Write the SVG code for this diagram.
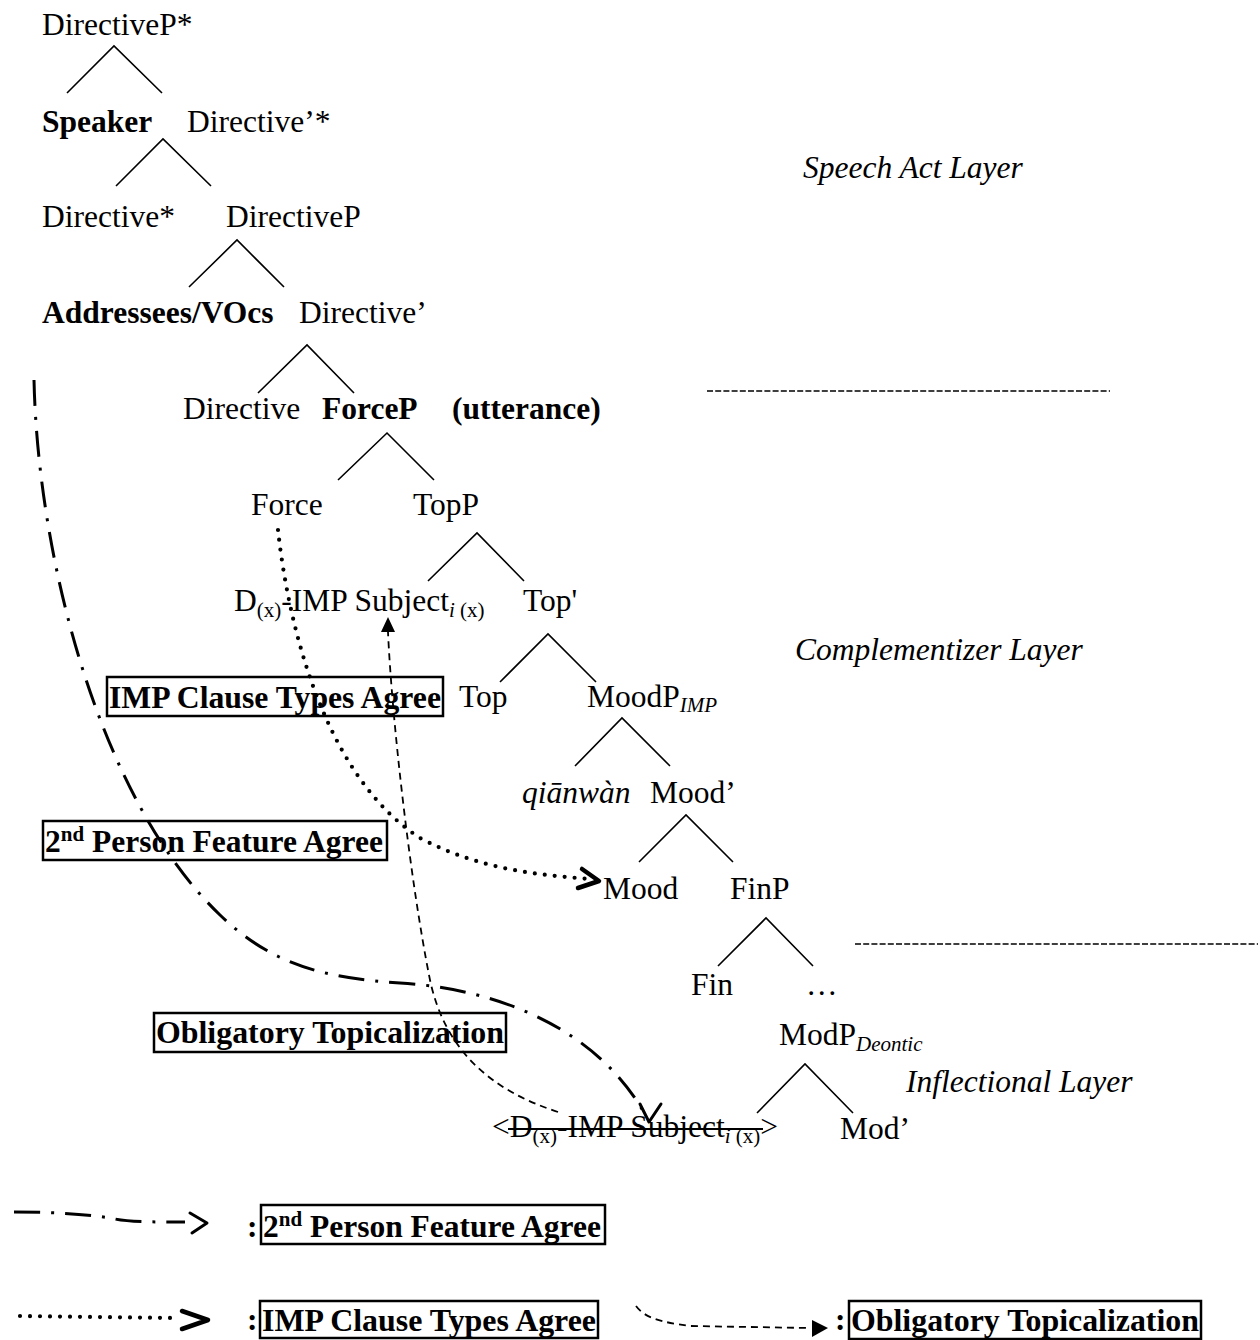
<svg xmlns="http://www.w3.org/2000/svg" width="1260" height="1340" viewBox="0 0 1260 1340">
  <style>
    .t { font-family: "Liberation Serif", "Times New Roman", serif; font-size: 31.5px; fill: #000; }
    .b { font-weight: bold; }
    .i { font-style: italic; }
    .sub { font-size: 21px; }
    .tree { fill: none; stroke: #000; stroke-width: 1.6; }
    .box { fill: none; stroke: #000; stroke-width: 2.5; }
    .sep { fill: none; stroke: #000; stroke-width: 1.5; stroke-dasharray: 6 2.2; }
    .dashdot { fill: none; stroke: #000; stroke-width: 3; stroke-dasharray: 26 11 3 11; }
    .dotted { fill: none; stroke: #000; stroke-width: 4.2; stroke-linecap: round; stroke-dasharray: 0 10; }
    .dashed { fill: none; stroke: #000; stroke-width: 1.8; stroke-dasharray: 7 5; }
    .head { fill: none; stroke: #000; stroke-linecap: round; stroke-linejoin: round; }
    .strike { stroke: #000; stroke-width: 2; }
  </style>

  <rect width="1260" height="1340" fill="#fff"/>

  <!-- layer labels and separators -->
  <g id="layers">
    <text class="t i" x="803" y="178">Speech Act Layer</text>
    <line class="sep" x1="707" y1="391" x2="1110" y2="391"/>
    <text class="t i" x="795" y="660">Complementizer Layer</text>
    <line class="sep" x1="855" y1="944" x2="1258" y2="944"/>
    <text class="t i" x="906" y="1092">Inflectional Layer</text>
  </g>

  <!-- tree nodes -->
  <g id="n-directiveP-star"><text class="t" x="42" y="35">DirectiveP*</text></g>
  <g id="n-speaker"><text class="t b" x="42" y="132">Speaker</text></g>
  <g id="n-directive-bar-star"><text class="t" x="187" y="132">Directive’*</text></g>
  <g id="n-directive-star"><text class="t" x="42" y="227">Directive*</text></g>
  <g id="n-directiveP"><text class="t" x="226" y="227">DirectiveP</text></g>
  <g id="n-addressees"><text class="t b" x="42" y="323">Addressees/VOcs</text></g>
  <g id="n-directive-bar"><text class="t" x="299" y="323">Directive’</text></g>
  <g id="n-directive"><text class="t" x="183" y="419">Directive</text></g>
  <g id="n-forceP"><text class="t b" x="322" y="419">ForceP</text><text class="t b" x="452" y="419">(utterance)</text></g>
  <g id="n-force"><text class="t" x="251" y="515">Force</text></g>
  <g id="n-topP"><text class="t" x="413" y="515">TopP</text></g>
  <g id="n-subject"><text class="t" x="234" y="611">D<tspan class="sub" dy="6">(x)</tspan><tspan dy="-6">-IMP Subject</tspan><tspan class="sub i" dy="6">i</tspan><tspan class="sub"> (x)</tspan></text></g>
  <g id="n-top-bar"><text class="t" x="523" y="611">Top'</text></g>
  <g id="n-top"><text class="t" x="459" y="707">Top</text></g>
  <g id="n-moodP"><text class="t" x="587" y="707">MoodP<tspan class="sub i" dy="5">IMP</tspan></text></g>
  <g id="n-qianwan"><text class="t i" x="522" y="803">qiānwàn</text></g>
  <g id="n-mood-bar"><text class="t" x="650" y="803">Mood’</text></g>
  <g id="n-mood"><text class="t" x="603" y="899">Mood</text></g>
  <g id="n-finP"><text class="t" x="730" y="899">FinP</text></g>
  <g id="n-fin"><text class="t" x="691" y="995">Fin</text></g>
  <g id="n-ellipsis"><text class="t" x="806" y="995">…</text></g>
  <g id="n-modP"><text class="t" x="779" y="1045">ModP<tspan class="sub i" dy="6">Deontic</tspan></text></g>
  <g id="n-subject-copy">
    <text class="t" x="492" y="1137">&lt;D<tspan class="sub" dy="6">(x)</tspan><tspan dy="-6">-IMP Subject</tspan><tspan class="sub i" dy="6">i</tspan><tspan class="sub"> (x)</tspan><tspan dy="-6">&gt;</tspan></text>
    <line class="strike" x1="508" y1="1129" x2="763" y2="1129"/>
  </g>
  <g id="n-mod-bar"><text class="t" x="840" y="1139">Mod’</text></g>

  <!-- boxed operation labels -->
  <g id="lbl-imp-agree">
    <rect class="box" x="107" y="677" width="336" height="39"/>
    <text class="t b" x="109" y="708" textLength="332" lengthAdjust="spacingAndGlyphs">IMP Clause Types Agree</text>
  </g>
  <g id="lbl-person-agree">
    <rect class="box" x="43" y="821" width="344" height="39"/>
    <text class="t b" x="45" y="852">2<tspan class="sub" dy="-11">nd</tspan><tspan dy="11"> Person Feature Agree</tspan></text>
  </g>
  <g id="lbl-topicalization">
    <rect class="box" x="154" y="1013" width="352" height="39"/>
    <text class="t b" x="156" y="1043" textLength="348" lengthAdjust="spacingAndGlyphs">Obligatory Topicalization</text>
  </g>

  <!-- connectors -->
  <g id="connectors">
    <path class="tree" d="M67,93 L114,46 L162,93"/>
    <path class="tree" d="M116,186 L163,139 L211,186"/>
    <path class="tree" d="M189,287 L237,240 L284,287"/>
    <path class="tree" d="M258,393 L307,345 L354,393"/>
    <path class="tree" d="M338,480 L387,433 L434,480"/>
    <path class="tree" d="M428,581 L477,533 L524,581"/>
    <path class="tree" d="M500,682 L548,634 L596,682"/>
    <path class="tree" d="M575,766 L622,718 L670,766"/>
    <path class="tree" d="M639,862 L686,815 L733,862"/>
    <path class="tree" d="M718,966 L766,918 L813,966"/>
    <path class="tree" d="M757,1113 L805,1064 L853,1113"/>

    <!-- 2nd person feature agree -->
    <path class="dashdot" d="M34,380 C 38,560 100,800 220,915 C 270,963 320,978 400,983 C 500,989 600,1030 647,1118"/>
    <path class="head" stroke-width="3" d="M640,1104 L649,1122 L661,1104"/>

    <!-- IMP clause types agree -->
    <path class="dotted" d="M278,530 C 290,640 330,780 420,838 C 480,870 540,875 590,879"/>
    <path class="head" stroke-width="4.5" d="M582,869 L599,881 L578,888"/>

    <!-- obligatory topicalization -->
    <path class="dashed" d="M558,1112 C 490,1090 445,1050 430,980 C 410,880 392,720 388,632"/>
    <polygon points="388,617 381,632 395,632" fill="#000"/>
  </g>

  <!-- key -->
  <g id="legend">
    <path class="dashdot" d="M14,1212 C 60,1212 95,1215 115,1219 C 130,1222 150,1222 185,1222"/>
    <path class="head" stroke-width="3" d="M190,1213 L207,1223 L192,1233"/>
    <text class="t b" x="247" y="1237">:</text>
    <rect class="box" x="261" y="1205" width="344" height="39"/>
    <text class="t b" x="263" y="1237">2<tspan class="sub" dy="-11">nd</tspan><tspan dy="11"> Person Feature Agree</tspan></text>

    <path class="dotted" d="M20,1316 L172,1318"/>
    <path class="head" stroke-width="4.5" d="M182,1311 L208,1320 L182,1329"/>
    <text class="t b" x="247" y="1330">:</text>
    <rect class="box" x="260" y="1301" width="338" height="37"/>
    <text class="t b" x="262" y="1331" textLength="334" lengthAdjust="spacingAndGlyphs">IMP Clause Types Agree</text>

    <path class="dashed" d="M636,1306 C 645,1318 660,1322 690,1326 L 810,1328"/>
    <polygon points="812,1320 828,1328 812,1337" fill="#000"/>
    <text class="t b" x="835" y="1330">:</text>
    <rect class="box" x="849" y="1301" width="352" height="38"/>
    <text class="t b" x="851" y="1331" textLength="348" lengthAdjust="spacingAndGlyphs">Obligatory Topicalization</text>
  </g>
</svg>
